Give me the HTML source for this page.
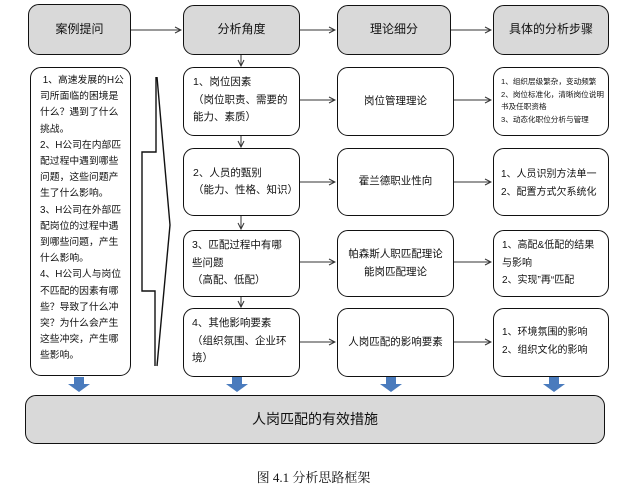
<!DOCTYPE html>
<html><head><meta charset="utf-8"><style>
body{margin:0;width:627px;height:493px;background:#fff;position:relative;font-family:"Liberation Sans","Noto Sans CJK SC",sans-serif;color:#111;overflow:hidden}
.b{position:absolute;border:1.6px solid #111;border-radius:11px;box-sizing:border-box;background:#fff;font-size:10.5px;line-height:17.5px}
.g{background:#d9d9d9;display:flex;align-items:center;justify-content:center;font-size:12px}
.c{display:flex;align-items:center;justify-content:center;text-align:center}
.p{padding:6px 8px}
svg{position:absolute;left:0;top:0}
</style></head><body>
<svg width="627" height="493">
<defs><marker id="a" markerWidth="8" markerHeight="8" refX="7" refY="4" orient="auto"><path d="M1,1 L7,4 L1,7" fill="none" stroke="#333" stroke-width="1"/></marker></defs>
<g stroke="#333" stroke-width="1" fill="none">
<line x1="131" y1="30" x2="181" y2="30" marker-end="url(#a)"/>
<line x1="300" y1="30" x2="335" y2="30" marker-end="url(#a)"/>
<line x1="451" y1="30" x2="491" y2="30" marker-end="url(#a)"/>
<line x1="241" y1="55" x2="241" y2="66" marker-end="url(#a)"/>
<line x1="241" y1="135" x2="241" y2="147" marker-end="url(#a)"/>
<line x1="241" y1="215" x2="241" y2="229" marker-end="url(#a)"/>
<line x1="241" y1="296" x2="241" y2="307" marker-end="url(#a)"/>
<line x1="299" y1="100" x2="335" y2="100" marker-end="url(#a)"/>
<line x1="299" y1="182" x2="335" y2="182" marker-end="url(#a)"/>
<line x1="299" y1="262" x2="335" y2="262" marker-end="url(#a)"/>
<line x1="299" y1="342" x2="335" y2="342" marker-end="url(#a)"/>
<line x1="454" y1="100" x2="491" y2="100" marker-end="url(#a)"/>
<line x1="454" y1="182" x2="491" y2="182" marker-end="url(#a)"/>
<line x1="454" y1="262" x2="491" y2="262" marker-end="url(#a)"/>
<line x1="454" y1="342" x2="491" y2="342" marker-end="url(#a)"/>
<path d="M156,77 L156,152 L142,152 L142,291 L155,291 L155,366" stroke="#111" stroke-width="1.4"/>
<path d="M157,77 L170,225 L157,366" stroke="#111" stroke-width="1.4"/>
</g>
<g fill="#4a7bbd">
<path d="M74,377h10v7h6l-11,8l-11,-8h6z"/>
<path d="M232,377h10v7h6l-11,8l-11,-8h6z"/>
<path d="M386,377h10v7h6l-11,8l-11,-8h6z"/>
<path d="M549,377h10v7h6l-11,8l-11,-8h6z"/>
</g>
</svg>
<div class="b g" style="left:28px;top:4px;width:103px;height:51px">案例提问</div>
<div class="b g" style="left:183px;top:5px;width:117px;height:50px">分析角度</div>
<div class="b g" style="left:337px;top:5px;width:114px;height:50px">理论细分</div>
<div class="b g" style="left:493px;top:5px;width:116px;height:50px">具体的分析步骤</div>
<div class="b" style="left:30px;top:67px;width:101px;height:309px;padding:5px 6px 0 9px;font-size:9.8px;line-height:16.2px">&nbsp;1、高速发展的H公司所面临的困境是什么？遇到了什么挑战。<br>2、H公司在内部匹配过程中遇到哪些问题，这些问题产生了什么影响。<br>3、H公司在外部匹配岗位的过程中遇到哪些问题，产生什么影响。<br>4、H公司人与岗位不匹配的因素有哪些？导致了什么冲突？为什么会产生这些冲突，产生哪些影响。</div>
<div class="b p" style="left:183px;top:67px;width:117px;height:69px;padding:6px 5px 0 9px">1、岗位因素<br>（岗位职责、需要的能力、素质）</div>
<div class="b p c" style="left:183px;top:148px;width:117px;height:68px;justify-content:flex-start;text-align:left;padding:6px 3px 6px 9px">2、人员的甄别<br>（能力、性格、知识）</div>
<div class="b p" style="left:183px;top:230px;width:117px;height:67px">3、匹配过程中有哪些问题<br>（高配、低配）</div>
<div class="b p" style="left:183px;top:308px;width:117px;height:69px">4、其他影响要素<br>（组织氛围、企业环境）</div>
<div class="b c" style="left:337px;top:67px;width:117px;height:69px">岗位管理理论</div>
<div class="b c" style="left:337px;top:148px;width:117px;height:68px">霍兰德职业性向</div>
<div class="b c" style="left:337px;top:230px;width:117px;height:67px">帕森斯人职匹配理论<br>能岗匹配理论</div>
<div class="b c" style="left:337px;top:308px;width:117px;height:69px">人岗匹配的影响要素</div>
<div class="b" style="left:493px;top:67px;width:116px;height:69px;font-size:7.6px;line-height:12.5px;padding:8px 3px 0 7px">1、组织层级繁杂，变动频繁<br>2、岗位标准化，清晰岗位说明书及任职资格<br>3、动态化职位分析与管理</div>
<div class="b" style="left:493px;top:148px;width:116px;height:68px;padding:17px 3px 0 7px;font-size:10px">1、人员识别方法单一<br>2、配置方式欠系统化</div>
<div class="b" style="left:493px;top:230px;width:116px;height:67px;padding:6px 4px 0 8px;font-size:10px">1、高配&amp;低配的结果与影响<br>2、实现”再“匹配</div>
<div class="b" style="left:493px;top:308px;width:116px;height:69px;padding:15px 4px 0 8px;font-size:10px">1、环境氛围的影响<br>2、组织文化的影响</div>
<div class="b g" style="left:25px;top:395px;width:580px;height:49px;font-size:14px">人岗匹配的有效措施</div>
<div style="position:absolute;left:0;width:627px;top:467px;text-align:center;font-family:'Liberation Serif','Noto Serif CJK SC',serif;font-size:13px">图 4.1 分析思路框架</div>
</body></html>
